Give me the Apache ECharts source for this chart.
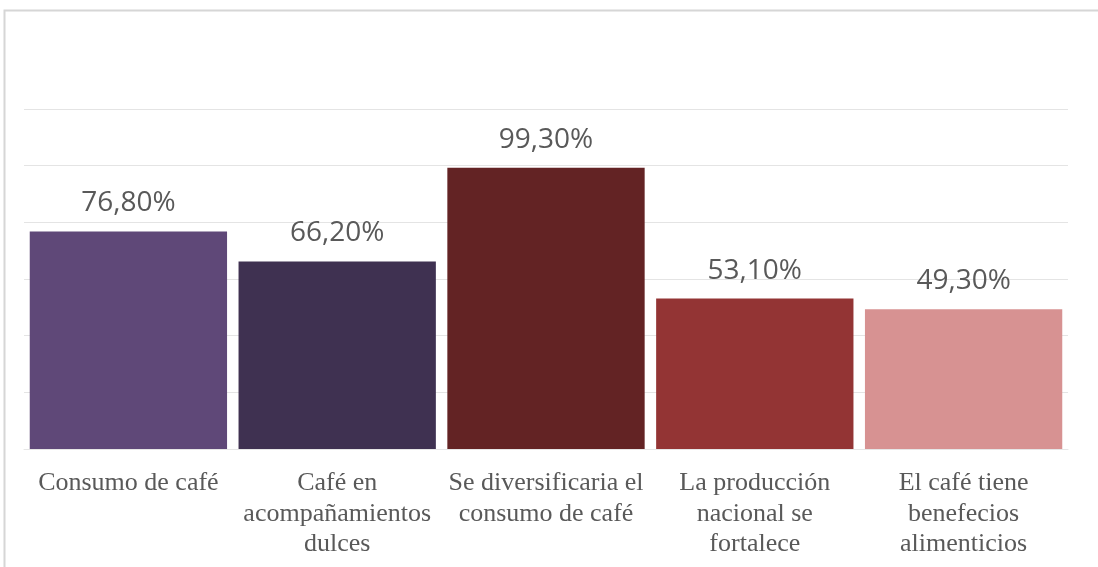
<!DOCTYPE html>
<html>
<head>
<meta charset="utf-8">
<style>
  html, body { margin: 0; padding: 0; background: #ffffff; }
  #chart { width: 1098px; height: 567px; }
</style>
<script src="https://cdn.jsdelivr.net/npm/echarts@6/dist/echarts.min.js"></script>
</head>
<body>
<div id="chart"></div>
<script>
// Survey answers (share of respondents)
const categories = [
  'Consumo de café',
  'Café en\nacompañamientos\ndulces',
  'Se diversificaria el\nconsumo de café',
  'La producción\nnacional se\nfortalece',
  'El café tiene\nbenefecios\nalimenticios'
];
const values = [76.8, 66.2, 99.3, 53.1, 49.3];
const barColors = ['#5f4878', '#3f3151', '#632324', '#933434', '#d79292'];

const chart = echarts.init(document.getElementById('chart'), null, { renderer: 'canvas' });

chart.setOption({
  animation: false,
  backgroundColor: '#ffffff',
  graphic: [{
    type: 'rect',
    shape: { x: 4.5, y: 10.5, width: 1200, height: 700 },
    style: { fill: 'none', stroke: '#d6d6d6', lineWidth: 2 },
    silent: true
  }],
  grid: { left: 24, right: 30, top: 109, bottom: 118 },
  xAxis: {
    type: 'category',
    data: categories,
    axisTick: { show: false },
    axisLine: { show: true, lineStyle: { color: '#e6e6e6', width: 1 } },
    axisLabel: {
      interval: 0,
      margin: 19,
      fontFamily: '"Liberation Serif", "Times New Roman", serif',
      fontSize: 26,
      lineHeight: 30.5,
      color: '#595959',
      align: 'center'
    }
  },
  yAxis: {
    type: 'value',
    min: 0,
    max: 120,
    interval: 20,
    axisLabel: { show: false },
    axisLine: { show: false },
    axisTick: { show: false },
    splitLine: { lineStyle: { color: '#e4e4e4', width: 1 } }
  },
  series: [{
    type: 'bar',
    barCategoryGap: '5.5%',
    data: values.map((v, i) => ({ value: v, itemStyle: { color: barColors[i] } })),
    label: {
      show: true,
      position: 'top',
      distance: 14,
      fontFamily: '"Open Sans", "Liberation Sans", sans-serif',
      fontSize: 28,
      color: '#595959',
      formatter: p => p.value.toFixed(2).replace('.', ',') + '%'
    }
  }]
});
</script>
</body>
</html>
